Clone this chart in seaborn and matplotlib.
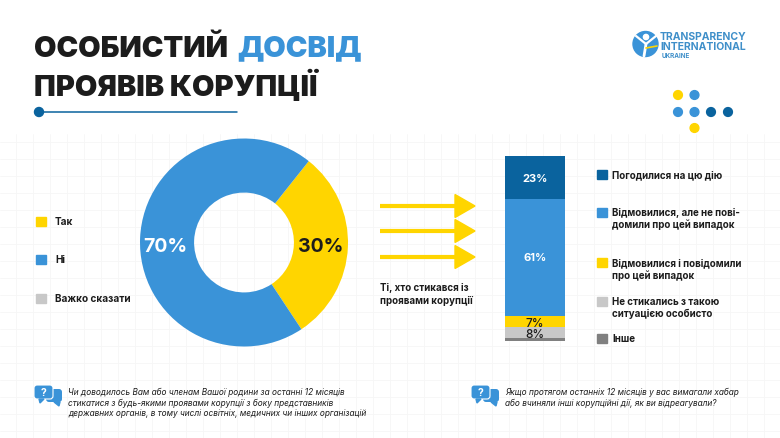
"""Personal experience of corruption: donut and stacked bar infographic."""
import matplotlib
matplotlib.use("Agg")
import matplotlib.pyplot as plt
import pandas as pd
import seaborn as sns
from matplotlib.patches import Circle, FancyBboxPatch, Polygon, Rectangle

W, H = 780, 439
YELLOW = "#FFD500"
BLUE = "#3A93D8"
DARK = "#0A639E"
GREY = "#C8C8C8"
DGREY = "#808080"
INK = "#1C1C1C"

# donut
donut_labels = ["Так", "Ні", "Важко сказати"]
donut_values = [30, 70]
donut_text = ["30%", "70%"]

# stacked bar, top to bottom (heights as drawn in the picture)
bar_cats = ["Погодилися", "Відмовилися, не повідомили", "Відмовилися, повідомили", "Не стикались", "Інше"]
bar_heights = [23.2, 63.2, 5.9, 6.1, 1.6]
bar_text = ["23%", "61%", "7%", "8%", ""]
bar_colors = [DARK, BLUE, YELLOW, GREY, DGREY]

legend_rows = [
    ["Погодилися на цю дію"],
    ["Відмовилися, але не пові-", "домили про цей випадок"],
    ["Відмовилися і повідомили", "про цей випадок"],
    ["Не стикались з такою", "ситуацією особисто"],
    ["Інше"],
]
question_left = [
    "Чи доводилось Вам або членам Вашої родини за останні 12 місяців",
    "стикатися з будь-якими проявами корупції з боку представників",
    "державних органів, в тому числі освітніх, медичних чи інших організацій",
]
question_right = [
    "Якщо протягом останніх 12 місяців у вас вимагали хабар",
    "або вчиняли інші корупційні дії, як ви відреагували?",
]

sns.set_theme(style="white")
plt.rcParams["font.family"] = ["Inter", "DejaVu Sans"]

fig = plt.figure(figsize=(W / 100, H / 100), dpi=100, facecolor="white")


def px_axes(x0, y0, x1, y1):
    # axes placed by pixel box, y counted from the top
    ax = fig.add_axes([x0 / W, 1 - y1 / H, (x1 - x0) / W, (y1 - y0) / H])
    ax.patch.set_alpha(0)
    ax.axis("off")
    return ax


bg = px_axes(0, 0, W, H)
bg.set_xlim(0, W)
bg.set_ylim(H, 0)

# faint paper grid
for x in range(16, W, 17):
    bg.plot([x, x], [135, H], color="#F6F6F6", lw=0.6, zorder=0)
for y in range(143, H, 17):
    bg.plot([0, W], [y, y], color="#F6F6F6", lw=0.6, zorder=0)

# title
bg.text(34, 49, "ОСОБИСТИЙ", fontsize=20.9, fontweight="black", color=INK, va="center")
bg.text(237.5, 49, "ДОСВІД", fontsize=20.9, fontweight="black", color=BLUE, va="center")
bg.text(34, 86, "ПРОЯВІВ КОРУПЦІЇ", fontsize=20.9, fontweight="black", color=INK, va="center")
bg.plot([39, 237], [113, 113], color=DARK, lw=1.1)
bg.add_patch(Circle((39, 113), 4.5, color=DARK))

# logo
bg.add_patch(Circle((645.5, 45), 12.5, color=BLUE))
bg.plot([636, 646, 656], [37, 45, 37], color="white", lw=1.6)
bg.plot([646, 644], [45, 57], color="white", lw=2)
bg.add_patch(Circle((646, 38), 2.6, color="white"))
bg.plot([646, 657], [49, 47], color=YELLOW, lw=1.2)
bg.text(660, 37, "TRANSPARENCY", fontsize=7.5, fontweight="bold", color="#3F8FC9", va="center")
bg.text(660, 47, "INTERNATIONAL", fontsize=7.5, fontweight="bold", color="#3F8FC9", va="center")
bg.text(662, 56, "UKRAINE", fontsize=4.6, fontweight="bold", color="#3F8FC9", va="center")

# decorative dots
for cx, cy, col in [(678, 96, YELLOW), (694.5, 96, BLUE), (678, 113, BLUE), (694.5, 113, BLUE),
                    (711, 113, DARK), (728, 113, DARK), (694.5, 129, YELLOW)]:
    bg.add_patch(Circle((cx, cy), 4.4, color=col))

# left legend
for label, col, y in zip(donut_labels, [YELLOW, BLUE, GREY], [222, 260, 299]):
    bg.add_patch(Rectangle((36, y - 4.5), 10, 9, color=col))
    bg.text(55, y, label, fontsize=7.2, fontweight="bold", color=INK, va="center")

# donut
ax_pie = px_axes(140, 139.5, 348, 347.5)
ax_pie.pie(donut_values, colors=[YELLOW, BLUE], startangle=51.5, counterclock=False,
           radius=1.0, wedgeprops=dict(width=0.52, linewidth=0))
ax_pie.set_xlim(-1, 1)
ax_pie.set_ylim(-1, 1)
ax_pie.text(0.74, -0.03, donut_text[0], fontsize=14, fontweight="bold", color=INK, ha="center", va="center")
ax_pie.text(-0.76, -0.03, donut_text[1], fontsize=14, fontweight="bold", color="white", ha="center", va="center")

# arrows
for y in [207, 232, 258]:
    bg.plot([380, 457], [y, y], color=YELLOW, lw=3, solid_capstyle="butt")
    bg.add_patch(Polygon([(455, y - 11.5), (475, y), (455, y + 11.5)], color=YELLOW))
bg.text(380, 288, "Ті, хто стикався із", fontsize=7, fontweight="bold", color=INK, va="center")
bg.text(380, 301, "проявами корупції", fontsize=7, fontweight="bold", color=INK, va="center")

# stacked bar
ax_bar = px_axes(505, 157, 565, 342)
bottom = 100.0
for cat, height, col, txt in zip(bar_cats, bar_heights, bar_colors, bar_text):
    bottom -= height
    sns.barplot(data=pd.DataFrame({"group": ["all"], "share": [height]}), x="group", y="share",
                bottom=bottom, color=col, saturation=1, width=1.0, linewidth=0, ax=ax_bar)
    tcol = "white" if col in (DARK, BLUE) else INK
    ax_bar.text(0, bottom + height / 2 + (1 if height > 50 else 0), txt, fontsize=8 if height > 10 else 8.5,
                fontweight="bold" if height > 10 else "medium", color=tcol, ha="center",
                va="center_baseline")
ax_bar.set_xlim(-0.5, 0.5)
ax_bar.set_ylim(0, 100)
ax_bar.axis("off")

# right legend
legend_y = [[175], [213, 225], [263, 276], [302, 314], [339]]
for rows, col, ys in zip(legend_rows, bar_colors, legend_y):
    bg.add_patch(Rectangle((597, ys[0] - 4.5), 9.5, 9, color=col))
    for row, y in zip(rows, ys):
        bg.text(612, y, row, fontsize=7, fontweight="bold", color=INK, va="center")


def bubble(x, y):
    # two overlapping speech bubbles with a question mark
    bg.add_patch(FancyBboxPatch((x + 12, y + 4), 16, 13, boxstyle="round,pad=0,rounding_size=3",
                                color=BLUE, lw=0))
    bg.add_patch(Polygon([(x + 20, y + 17), (x + 26, y + 17), (x + 25, y + 21)], color=BLUE))
    bg.add_patch(FancyBboxPatch((x, y), 19, 14, boxstyle="round,pad=0,rounding_size=3",
                                fc=BLUE, ec="white", lw=0.8))
    bg.add_patch(Polygon([(x + 5, y + 14), (x + 10, y + 14), (x + 6, y + 18)], color=BLUE))
    bg.text(x + 9.5, y + 7, "?", fontsize=7.5, fontweight="bold", color="white", ha="center", va="center")


bubble(34, 386)
bubble(471, 386)

# question footers
for row, y in zip(question_left, [392, 403, 414]):
    bg.text(68, y, row, fontsize=5.95, style="italic", color=INK, va="center")
for row, y in zip(question_right, [392, 403]):
    bg.text(505, y, row, fontsize=5.95, style="italic", color=INK, va="center")

fig.savefig("out.png", dpi=100)
